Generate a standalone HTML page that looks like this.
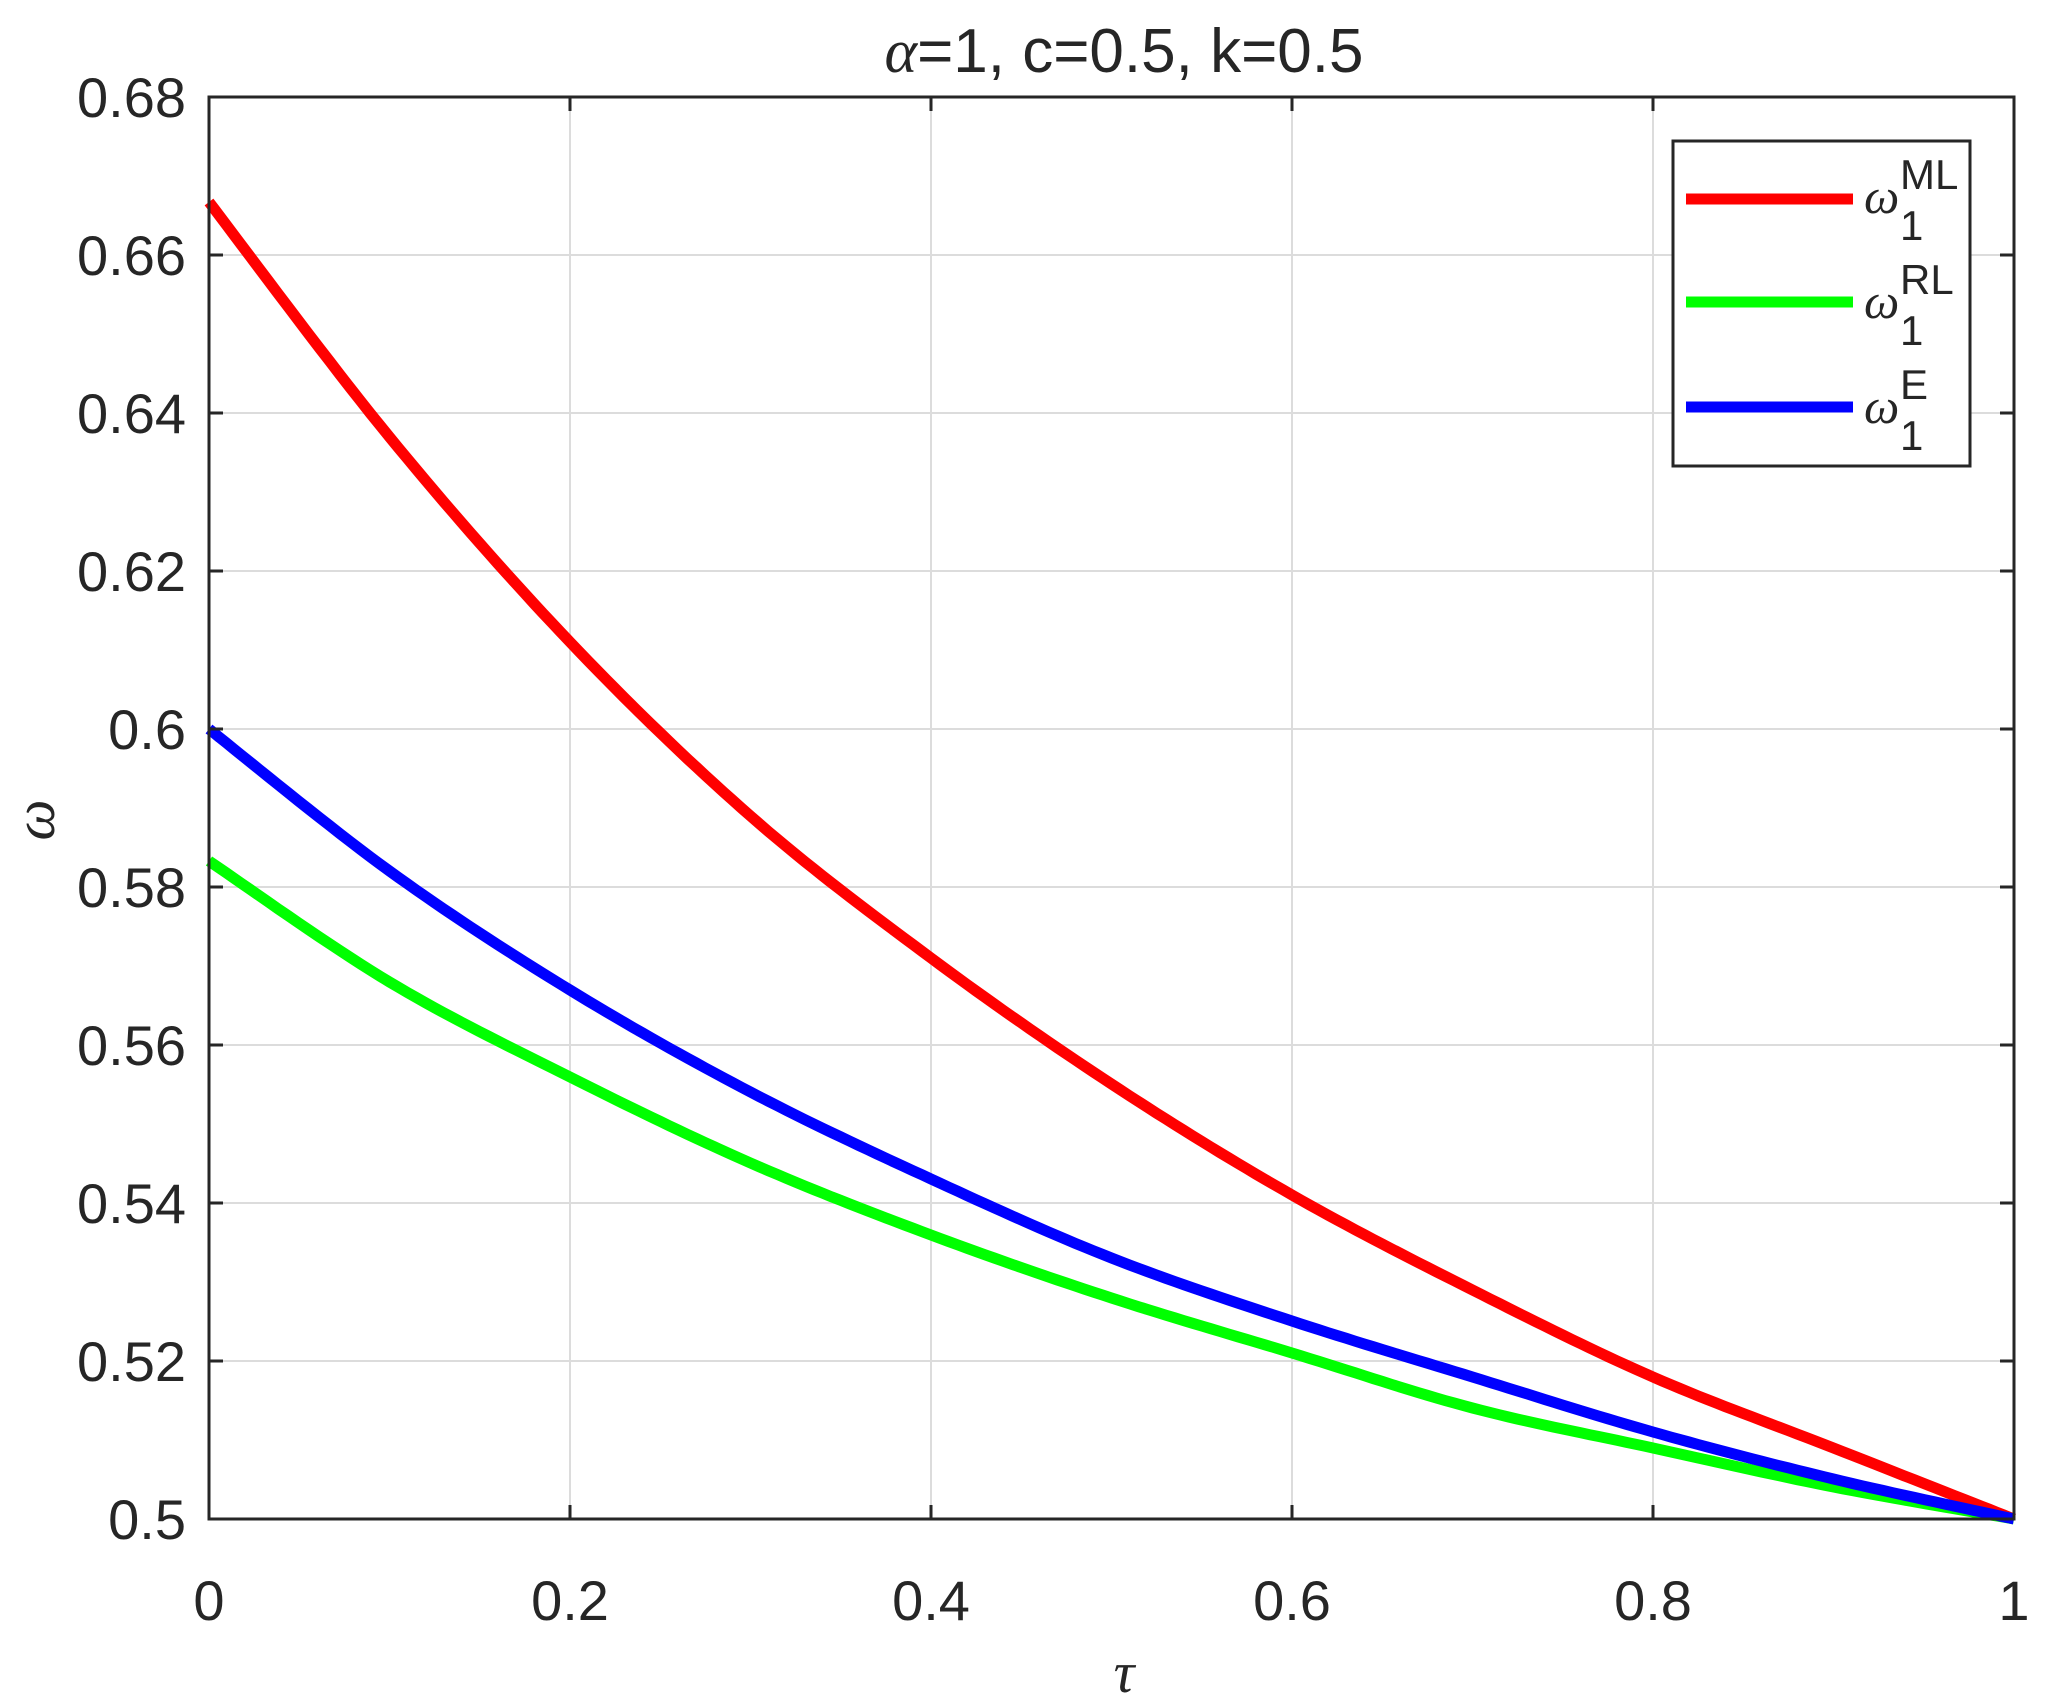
<!DOCTYPE html>
<html><head><style>body{margin:0;background:#fff}svg{display:block}</style></head><body>
<svg width="2052" height="1706" xmlns="http://www.w3.org/2000/svg" font-family="Liberation Sans, sans-serif">
<rect width="2052" height="1706" fill="#fff"/>
<g stroke="#dcdcdc" stroke-width="2">
<line x1="570" y1="97" x2="570" y2="1519"/><line x1="931" y1="97" x2="931" y2="1519"/><line x1="1292" y1="97" x2="1292" y2="1519"/><line x1="1653" y1="97" x2="1653" y2="1519"/>
<line x1="209" y1="255" x2="2014" y2="255"/><line x1="209" y1="413" x2="2014" y2="413"/><line x1="209" y1="571" x2="2014" y2="571"/><line x1="209" y1="729" x2="2014" y2="729"/><line x1="209" y1="887" x2="2014" y2="887"/><line x1="209" y1="1045" x2="2014" y2="1045"/><line x1="209" y1="1203" x2="2014" y2="1203"/><line x1="209" y1="1361" x2="2014" y2="1361"/>
</g>
<g fill="none" stroke-width="11" stroke-linejoin="round">
<polyline class="c" stroke="#ff0000" points="209,202 389.5,437 570,642 750.5,816 931,958 1111.5,1084 1292,1195 1472.5,1290 1653,1377 1833.5,1448 2014,1519"/>
<polyline class="c" stroke="#00ff00" points="209,861 389.5,982 570,1077 750.5,1163 931,1235 1111.5,1298 1292,1353 1472.5,1408 1653,1448 1833.5,1487 2014,1519"/>
<polyline class="c" stroke="#0000ff" points="209,729 389.5,871 570,990 750.5,1092 931,1179 1111.5,1258 1292,1321 1472.5,1377 1653,1432 1833.5,1479 2014,1519"/>
</g>
<rect x="209" y="97" width="1805" height="1422" fill="none" stroke="#262626" stroke-width="3"/>
<g stroke="#262626" stroke-width="3">
<line x1="570" y1="1519" x2="570" y2="1505"/><line x1="931" y1="1519" x2="931" y2="1505"/><line x1="1292" y1="1519" x2="1292" y2="1505"/><line x1="1653" y1="1519" x2="1653" y2="1505"/>
<line x1="570" y1="97" x2="570" y2="111"/><line x1="931" y1="97" x2="931" y2="111"/><line x1="1292" y1="97" x2="1292" y2="111"/><line x1="1653" y1="97" x2="1653" y2="111"/>
<line x1="209" y1="255" x2="223" y2="255"/><line x1="209" y1="413" x2="223" y2="413"/><line x1="209" y1="571" x2="223" y2="571"/><line x1="209" y1="729" x2="223" y2="729"/><line x1="209" y1="887" x2="223" y2="887"/><line x1="209" y1="1045" x2="223" y2="1045"/><line x1="209" y1="1203" x2="223" y2="1203"/><line x1="209" y1="1361" x2="223" y2="1361"/>
<line x1="2014" y1="255" x2="2000" y2="255"/><line x1="2014" y1="413" x2="2000" y2="413"/><line x1="2014" y1="571" x2="2000" y2="571"/><line x1="2014" y1="729" x2="2000" y2="729"/><line x1="2014" y1="887" x2="2000" y2="887"/><line x1="2014" y1="1045" x2="2000" y2="1045"/><line x1="2014" y1="1203" x2="2000" y2="1203"/><line x1="2014" y1="1361" x2="2000" y2="1361"/>
</g>
<g fill="#262626" font-size="56" text-anchor="end">
<text x="186" y="117">0.68</text><text x="186" y="275">0.66</text><text x="186" y="433">0.64</text><text x="186" y="591">0.62</text><text x="186" y="749">0.6</text><text x="186" y="907">0.58</text><text x="186" y="1065">0.56</text><text x="186" y="1223">0.54</text><text x="186" y="1381">0.52</text><text x="186" y="1539">0.5</text>
</g>
<g fill="#262626" font-size="56" text-anchor="middle">
<text x="209" y="1620">0</text><text x="570" y="1620">0.2</text><text x="931" y="1620">0.4</text><text x="1292" y="1620">0.6</text><text x="1653" y="1620">0.8</text><text x="2014" y="1620">1</text>
<text x="1124" y="1692" font-family="Liberation Serif, serif" font-style="italic" font-size="58">τ</text>
<text x="1124" y="72" font-size="62"><tspan font-family="Liberation Serif, serif" font-style="italic">α</tspan>=1, c=0.5, k=0.5</text>
<text transform="translate(54,820) rotate(-90)" font-family="Liberation Serif, serif" font-style="italic" font-size="58">ω</text>
</g>
<rect x="1673" y="141" width="297" height="325" fill="#fff" stroke="#262626" stroke-width="3"/>
<g stroke-width="11"><line x1="1686" y1="199" x2="1853" y2="199" stroke="#ff0000"/><line x1="1686" y1="302" x2="1853" y2="302" stroke="#00ff00"/><line x1="1686" y1="407" x2="1853" y2="407" stroke="#0000ff"/></g>
<g fill="#262626" font-size="42">
<text x="1864" y="213" font-family="Liberation Serif, serif" font-style="italic" font-size="50">ω</text><text x="1900" y="189">ML</text><text x="1900" y="240">1</text>
<text x="1864" y="318" font-family="Liberation Serif, serif" font-style="italic" font-size="50">ω</text><text x="1900" y="294">RL</text><text x="1900" y="345">1</text>
<text x="1864" y="423" font-family="Liberation Serif, serif" font-style="italic" font-size="50">ω</text><text x="1900" y="399">E</text><text x="1900" y="450">1</text>
</g>
</svg>
<script>
document.querySelectorAll('polyline.c').forEach(function(pl){
 var p=pl.getAttribute('points').trim().split(/\s+/).map(function(s){return s.split(',').map(Number);});
 var out=[];
 for(var i=0;i<p.length-1;i++){
  var p0=p[Math.max(i-1,0)],p1=p[i],p2=p[i+1],p3=p[Math.min(i+2,p.length-1)];
  for(var t=0;t<1;t+=0.05){
   var t2=t*t,t3=t2*t;
   var f=function(a,b,c,d){return 0.5*((2*b)+(-a+c)*t+(2*a-5*b+4*c-d)*t2+(-a+3*b-3*c+d)*t3);};
   out.push(f(p0[0],p1[0],p2[0],p3[0]).toFixed(1)+','+f(p0[1],p1[1],p2[1],p3[1]).toFixed(1));
  }
 }
 out.push(p[p.length-1].join(','));
 pl.setAttribute('points',out.join(' '));
});
</script>
</body></html>
